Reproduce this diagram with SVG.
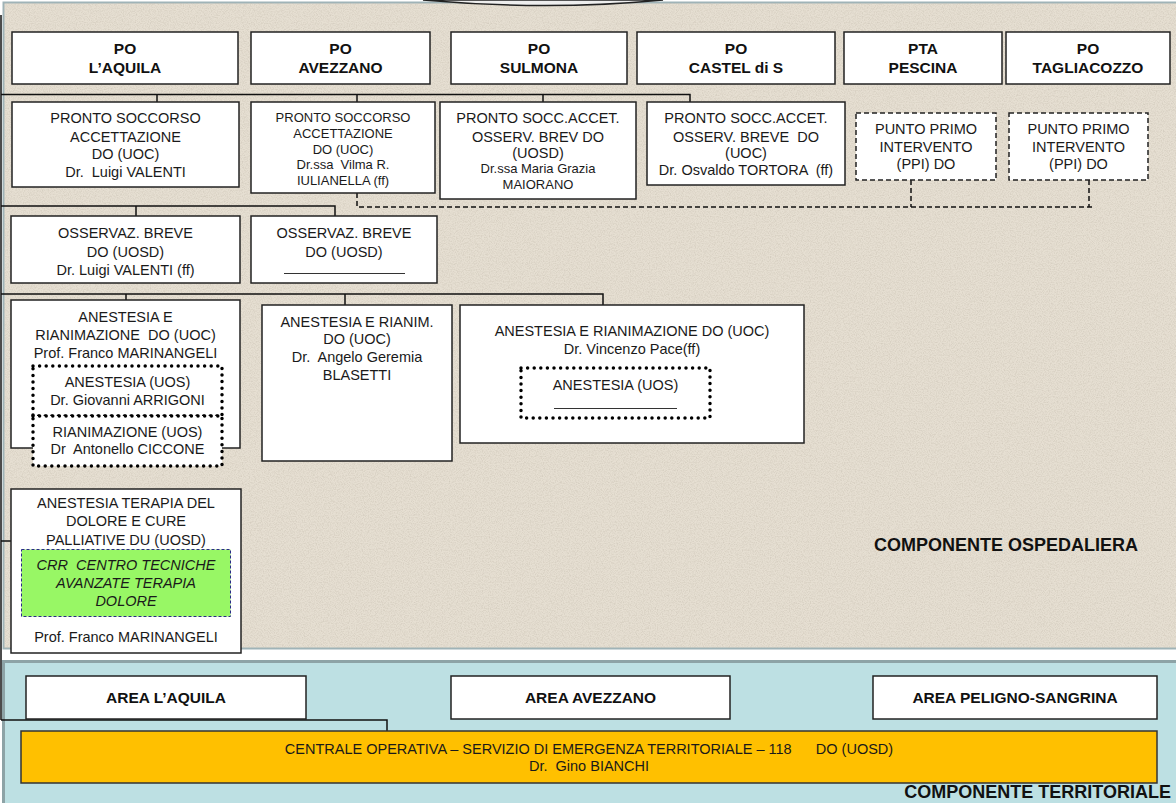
<svg xmlns="http://www.w3.org/2000/svg" width="1176" height="803" viewBox="0 0 1176 803">
<defs>
<filter id="noise" x="0" y="0" width="100%" height="100%">
<feTurbulence type="fractalNoise" baseFrequency="0.85" numOctaves="2" seed="7"/>
<feColorMatrix type="matrix" values="0 0 0 0 0.55  0 0 0 0 0.5  0 0 0 0 0.42  1.3 0 0 0 -0.5"/>
</filter>
<style>
text{font-family:"Liberation Sans",Arial,sans-serif;fill:#1a1a1a;text-anchor:middle;white-space:pre}
.t{font-size:14.5px}
.s{font-size:13px}
.b{font-size:15.5px;font-weight:bold;fill:#111}
.c{font-size:18px;font-weight:bold;fill:#111}
.i{font-style:italic}
.box{fill:#fff;stroke:#222;stroke-width:1.5}
.dash{fill:#fff;stroke:#222;stroke-width:1.5;stroke-dasharray:5 3}
.dot{fill:#fff;stroke:#000;stroke-width:3.5;stroke-linecap:round;stroke-dasharray:0 6.6}
.ln{fill:none;stroke:#111;stroke-width:1.5}
.dln{fill:none;stroke:#111;stroke-width:1.5;stroke-dasharray:5 3}
.ul{stroke:#333;stroke-width:1}
</style>
</defs>

<!-- panels -->
<rect x="0" y="0" width="1176" height="803" fill="#fff"/>
<rect x="3.5" y="2.5" width="1180" height="646" fill="#e6dfd2" stroke="#9fb3b7" stroke-width="2"/>
<rect x="4.5" y="3.5" width="1180" height="644" filter="url(#noise)" opacity="0.8"/>
<path d="M423,0 Q548,11 663,0 Z" fill="#eeeeee" stroke="#222" stroke-width="1.5"/>
<rect x="3.5" y="661.5" width="1180" height="145" fill="#bde0e3" stroke="#8da3a6" stroke-width="3"/>

<!-- connectors -->
<g id="connectors">
<path class="ln" d="M1,15 V720"/>
<path class="ln" d="M1,94.5 H690 V102 M157,94.5 V102 M357,94.5 V102 M543,94.5 V102"/>
<path class="dln" d="M357,193 V207 H1094 M911,180 V207 M1089,180 V207"/>
<path class="ln" d="M1,206 H335 V216 M136,206 V216"/>
<path class="ln" d="M1,294 H603 V305 M126,294 V300 M345,294 V305"/>
<path class="ln" d="M1,541 H11"/>
<path class="ln" d="M1,720 H387 V731"/>
</g>

<!-- PO row -->
<g id="po-laquila"><rect class="box" x="12" y="32" width="226" height="52"/><text class="b" x="125" y="53.5">PO</text><text class="b" x="125" y="72.5">L’AQUILA</text></g>
<g id="po-avezzano"><rect class="box" x="251" y="32" width="179" height="52"/><text class="b" x="340.5" y="53.5">PO</text><text class="b" x="340.5" y="72.5">AVEZZANO</text></g>
<g id="po-sulmona"><rect class="box" x="451" y="32" width="176" height="52"/><text class="b" x="539" y="53.5">PO</text><text class="b" x="539" y="72.5">SULMONA</text></g>
<g id="po-castel"><rect class="box" x="637" y="32" width="198" height="52"/><text class="b" x="736" y="53.5">PO</text><text class="b" x="736" y="72.5">CASTEL di S</text></g>
<g id="pta-pescina"><rect class="box" x="844" y="32" width="158" height="52"/><text class="b" x="923" y="53.5">PTA</text><text class="b" x="923" y="72.5">PESCINA</text></g>
<g id="po-tagliacozzo"><rect class="box" x="1006" y="32" width="164" height="52"/><text class="b" x="1088" y="53.5">PO</text><text class="b" x="1088" y="72.5">TAGLIACOZZO</text></g>

<!-- Pronto soccorso row -->
<g id="ps-laquila"><rect class="box" x="12" y="102" width="227" height="85"/>
<text class="t" x="125.5" y="123">PRONTO SOCCORSO</text>
<text class="t" x="125.5" y="141.5">ACCETTAZIONE</text>
<text class="t" x="125.5" y="159">DO (UOC)</text>
<text class="t" x="125.5" y="177">Dr.  Luigi VALENTI</text></g>
<g id="ps-avezzano"><rect class="box" x="251" y="102" width="184" height="91"/>
<text class="s" x="343" y="121.5">PRONTO SOCCORSO</text>
<text class="s" x="343" y="137.5">ACCETTAZIONE</text>
<text class="s" x="343" y="153.5">DO (UOC)</text>
<text class="s" x="343" y="168.5">Dr.ssa  Vilma R.</text>
<text class="s" x="343" y="184.5">IULIANELLA (ff)</text></g>
<g id="ps-sulmona"><rect class="box" x="440" y="102" width="196" height="97"/>
<text class="t" x="538" y="123">PRONTO SOCC.ACCET.</text>
<text class="t" x="538" y="141.5">OSSERV. BREV DO</text>
<text class="t" x="538" y="158">(UOSD)</text>
<text class="s" x="538" y="172.5">Dr.ssa Maria Grazia</text>
<text class="s" x="538" y="188.5">MAIORANO</text></g>
<g id="ps-castel"><rect class="box" x="647" y="102" width="198" height="83"/>
<text class="t" x="746" y="123">PRONTO SOCC.ACCET.</text>
<text class="t" x="746" y="141.5">OSSERV. BREVE  DO</text>
<text class="t" x="746" y="158">(UOC)</text>
<text class="t" x="746" y="175">Dr. Osvaldo TORTORA  (ff)</text></g>
<g id="ppi-pescina"><rect class="dash" x="856" y="113" width="140" height="67"/>
<text class="t" x="926" y="134">PUNTO PRIMO</text>
<text class="t" x="926" y="152">INTERVENTO</text>
<text class="t" x="926" y="169">(PPI) DO</text></g>
<g id="ppi-tagliacozzo"><rect class="dash" x="1009" y="113" width="139" height="67"/>
<text class="t" x="1078.5" y="134">PUNTO PRIMO</text>
<text class="t" x="1078.5" y="152">INTERVENTO</text>
<text class="t" x="1078.5" y="169">(PPI) DO</text></g>

<!-- Osservazione breve -->
<g id="ob-laquila"><rect class="box" x="11" y="216" width="229" height="67"/>
<text class="t" x="125.5" y="238">OSSERVAZ. BREVE</text>
<text class="t" x="125.5" y="256.5">DO (UOSD)</text>
<text class="t" x="125.5" y="274.5">Dr. Luigi VALENTI (ff)</text></g>
<g id="ob-avezzano"><rect class="box" x="251" y="216" width="186" height="67"/>
<text class="t" x="344" y="238">OSSERVAZ. BREVE</text>
<text class="t" x="344" y="256.5">DO (UOSD)</text>
<line class="ul" x1="284" y1="273.5" x2="405" y2="273.5"/></g>

<!-- Anestesia -->
<g id="an-laquila"><rect class="box" x="11" y="300" width="229" height="148"/>
<text class="t" x="125.5" y="322">ANESTESIA E</text>
<text class="t" x="125.5" y="339.5">RIANIMAZIONE  DO (UOC)</text>
<text class="t" x="125.5" y="357.5">Prof. Franco MARINANGELI</text>
<rect class="dot" x="33" y="366" width="189" height="50"/>
<text class="t" x="127.5" y="387">ANESTESIA (UOS)</text>
<text class="t" x="127.5" y="405">Dr. Giovanni ARRIGONI</text>
<rect class="dot" x="33" y="416" width="189" height="50"/>
<text class="t" x="127.5" y="437">RIANIMAZIONE (UOS)</text>
<text class="t" x="127.5" y="454">Dr  Antonello CICCONE</text></g>
<g id="an-avezzano"><rect class="box" x="262" y="305" width="190" height="156"/>
<text class="t" x="357" y="327">ANESTESIA E RIANIM.</text>
<text class="t" x="357" y="344">DO (UOC)</text>
<text class="t" x="357" y="362">Dr.  Angelo Geremia</text>
<text class="t" x="357" y="380">BLASETTI</text></g>
<g id="an-sulmona"><rect class="box" x="460" y="305" width="344" height="138"/>
<text class="t" x="632" y="336">ANESTESIA E RIANIMAZIONE DO (UOC)</text>
<text class="t" x="632" y="354">Dr. Vincenzo Pace(ff)</text>
<rect class="dot" x="521" y="368" width="189" height="50"/>
<text class="t" x="615.5" y="390">ANESTESIA (UOS)</text>
<line class="ul" x1="554" y1="408.5" x2="677" y2="408.5"/></g>

<!-- Terapia dolore -->
<g id="terapia-dolore"><rect class="box" x="11" y="489" width="230" height="164"/>
<text class="t" x="126" y="508">ANESTESIA TERAPIA DEL</text>
<text class="t" x="126" y="526">DOLORE E CURE</text>
<text class="t" x="126" y="545">PALLIATIVE DU (UOSD)</text>
<rect x="21.5" y="549.5" width="209" height="67" fill="#98f765" stroke="#2a2a8a" stroke-width="1" stroke-dasharray="3 2"/>
<text class="t i" x="126" y="570">CRR  CENTRO TECNICHE</text>
<text class="t i" x="126" y="588">AVANZATE TERAPIA</text>
<text class="t i" x="126" y="606">DOLORE</text>
<text class="t" x="126" y="642">Prof. Franco MARINANGELI</text></g>

<text class="c" x="1006" y="551">COMPONENTE OSPEDALIERA</text>

<!-- Territorial -->
<g id="area-laquila"><rect class="box" x="26" y="676" width="280" height="43"/><text class="b" x="166" y="703">AREA L’AQUILA</text></g>
<g id="area-avezzano"><rect class="box" x="451" y="676" width="279" height="43"/><text class="b" x="590.5" y="703">AREA AVEZZANO</text></g>
<g id="area-peligno"><rect class="box" x="873" y="676" width="284" height="43"/><text class="b" x="1015" y="703">AREA PELIGNO-SANGRINA</text></g>
<g id="centrale-118"><rect x="21" y="731" width="1136" height="52" fill="#ffc000" stroke="#333" stroke-width="1.5"/>
<text class="t" x="589" y="754">CENTRALE OPERATIVA – SERVIZIO DI EMERGENZA TERRITORIALE – 118      DO (UOSD)</text>
<text class="t" x="589" y="771">Dr.  Gino BIANCHI</text></g>
<text class="c" x="1171" y="798" style="text-anchor:end">COMPONENTE TERRITORIALE</text>
</svg>
